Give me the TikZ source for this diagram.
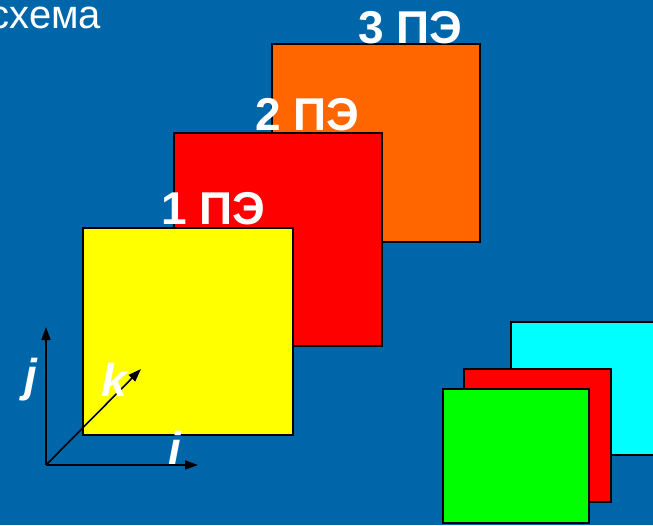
\documentclass[tikz,border=0pt]{standalone}
\usepackage{fontspec}
\setmainfont{Liberation Sans}
\usetikzlibrary{arrows.meta, positioning}

\definecolor{slideblue}{HTML}{0066AA}
\definecolor{peorange}{HTML}{FF6600}
\definecolor{pered}{HTML}{FF0000}
\definecolor{peyellow}{HTML}{FFFF00}
\definecolor{pecyan}{HTML}{00FFFF}
\definecolor{pegreen}{HTML}{00FF00}

\begin{document}
\begin{tikzpicture}[
    x=1pt, y=-1pt,
    every node/.style={inner sep=0pt, outer sep=0pt},
    plate/.style={rectangle, draw=black, line width=1.6pt, anchor=north west},
    pelabel/.style={text=white, font=\fontsize{46}{50}\selectfont\bfseries, anchor=base west},
    axislabel/.style={text=white, font=\fontsize{46}{50}\selectfont\bfseries\itshape, anchor=base west},
    axis/.style={-{Stealth[length=13pt, width=9pt, inset=0pt]}, line width=1.6pt, black}
]
\useasboundingbox (0,0) rectangle (653,525);
\clip (0,0) rectangle (653,525);
\fill[slideblue] (0,0) rectangle (653,525);

% ============ TITLE ============
\node[text=white, font=\fontsize{40}{44}\selectfont, anchor=base east] (title) at (101,28) {схема};

% ============ PROCESSING ELEMENTS ============
\node[plate, fill=peorange, minimum width=208pt, minimum height=198pt] (pe3) at (272,44) {};
\node[pelabel] (pe3lbl) at (358,43) {3 ПЭ};

\node[plate, fill=pered, minimum width=208pt, minimum height=213pt] (pe2) at (174,133) {};
\node[pelabel] (pe2lbl) at (255,130) {2 ПЭ};

\node[plate, fill=peyellow, minimum width=210pt, minimum height=207pt] (pe1) at (83,228) {};
\node[pelabel] (pe1lbl) at (161,224) {1 ПЭ};

% ============ AXES ============
\coordinate (orig) at (46,465);
\coordinate (jtip) at (46,327);
\coordinate (itip) at (198,465);
\coordinate (ktip) at (141,369);

\draw[axis] (orig) -- (jtip);
\draw[axis] (orig) -- (itip);
\draw[axis] (orig) -- (ktip);

\node[axislabel] (jlbl) at (24,391) {j};
\node[axislabel] (klbl) at (101,396) {k};
\node[axislabel] (ilbl) at (168,464) {i};

% ============ STACKED FRAMES ============
\node[plate, fill=pecyan, minimum width=150pt, minimum height=133pt] (frc) at (511,322) {};
\node[plate, fill=pered, minimum width=147pt, minimum height=133pt] (frr) at (464,369) {};
\node[plate, fill=pegreen, minimum width=146pt, minimum height=134pt] (frg) at (443,389) {};

\end{tikzpicture}
\end{document}
